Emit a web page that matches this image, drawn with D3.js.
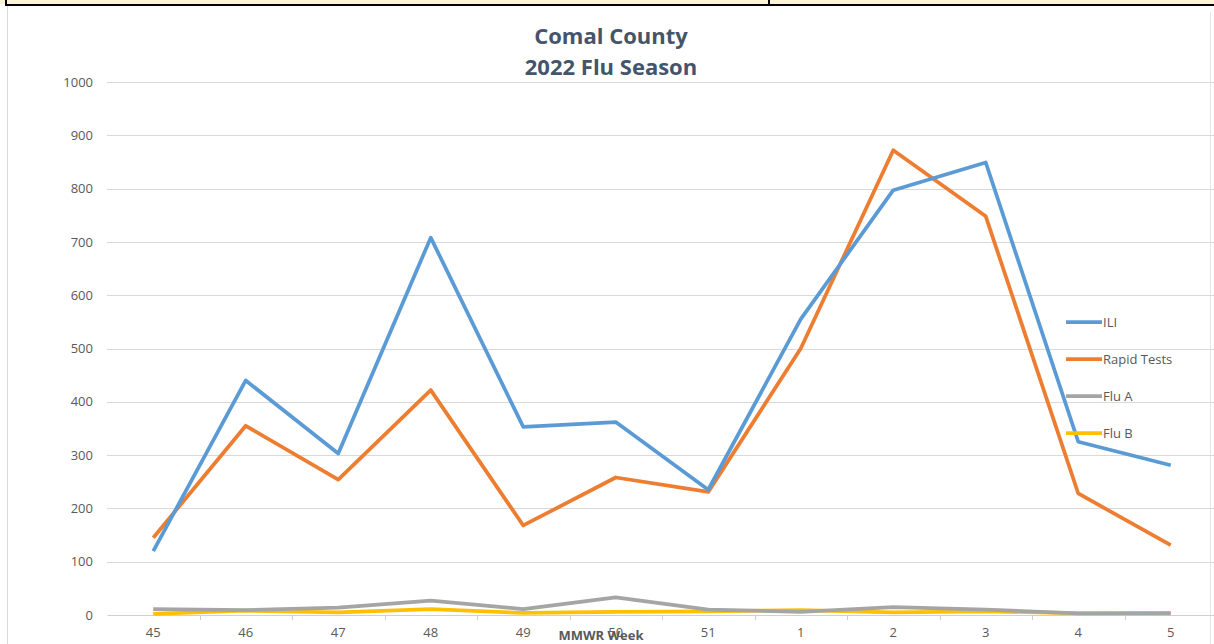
<!DOCTYPE html>
<html>
<head>
<meta charset="utf-8">
<script src="https://cdn.jsdelivr.net/npm/d3@7"></script>
<style>
	html, body { margin: 0; padding: 0; background: #fff; }
	svg { display: block; }
</style>
</head>
<body>
<div id="chart"></div>
<script>
'use strict';

var weeks = ['45', '46', '47', '48', '49', '50', '51', '1', '2', '3', '4', '5'];
var ili = [120, 440, 303, 708, 353, 362, 235, 555, 797, 849, 325, 281];
var rapidTests = [145, 355, 254, 422, 168, 258, 231, 500, 872, 748, 228, 131];
var fluA = [11, 9, 14, 27, 11, 33, 10, 6, 15, 10, 3, 3];
var fluB = [2, 8, 5, 11, 4, 6, 7, 9, 5, 7, 3, 4];
var yTicks = [0, 100, 200, 300, 400, 500, 600, 700, 800, 900, 1000];

var series = [
	{name: 'ILI', values: ili, color: '#5b9bd5'},
	{name: 'Rapid Tests', values: rapidTests, color: '#ed7d31'},
	{name: 'Flu A', values: fluA, color: '#a5a5a5'},
	{name: 'Flu B', values: fluB, color: '#ffc000'}
];

var svgWidth = 1214;
var svgHeight = 644;
var margin = {top: 82, right: -3, bottom: 29, left: 107};
var width = svgWidth - margin.left - margin.right;
var height = svgHeight - margin.top - margin.bottom;
var font = '"Open Sans", "Liberation Sans", sans-serif';

var svg = d3.select('#chart').append('svg')
	.attr('width', svgWidth)
	.attr('height', svgHeight);

// Page frame bits from the surrounding document
svg.append('rect').attr('x', 0).attr('y', 0).attr('width', svgWidth).attr('height', 4).attr('fill', '#fdf1d6');
svg.append('rect').attr('x', 5).attr('y', 4).attr('width', svgWidth - 5).attr('height', 2).attr('fill', '#000');
svg.append('rect').attr('x', 5).attr('y', 0).attr('width', 2).attr('height', 5).attr('fill', '#000');
svg.append('rect').attr('x', 768).attr('y', 0).attr('width', 2).attr('height', 5).attr('fill', '#000');
svg.append('line').attr('x1', 7.5).attr('x2', 7.5).attr('y1', 6).attr('y2', svgHeight).attr('stroke', '#d9d9d9');
svg.append('line').attr('x1', 1210.5).attr('x2', 1210.5).attr('y1', 12).attr('y2', svgHeight).attr('stroke', '#e6e6e6');

var x = d3.scaleBand().domain(weeks).range([0, width]);
var y = d3.scaleLinear().domain([0, 1000]).range([height, 0]);

var g = svg.append('g')
	.attr('transform', `translate(${margin.left}, ${margin.top})`);

// Gridlines
g.append('g').selectAll('line')
	.data(yTicks.filter(function(d) { return d > 0; }))
	.join('line')
	.attr('x1', 0)
	.attr('x2', width)
	.attr('y1', function(d) { return Math.round(y(d)) + 0.5; })
	.attr('y2', function(d) { return Math.round(y(d)) + 0.5; })
	.attr('stroke', '#d9d9d9');

// Y axis labels
var yAxis = g.append('g')
	.call(d3.axisLeft(y).tickValues(yTicks).tickFormat(d3.format('d')).tickSize(0).tickPadding(14));
yAxis.select('.domain').remove();
yAxis.selectAll('text')
	.attr('fill', '#595959')
	.style('font-family', font)
	.style('font-size', '13px');

// X axis
var xAxis = g.append('g')
	.attr('transform', `translate(0, ${height})`)
	.call(d3.axisBottom(x).tickSize(0).tickPadding(13));
xAxis.select('.domain').attr('stroke', '#d0d0d0');
xAxis.selectAll('text')
	.attr('fill', '#595959')
	.style('font-family', font)
	.style('font-size', '13px');

// Tick marks between categories
g.append('g').selectAll('line')
	.data(weeks.slice(1))
	.join('line')
	.attr('x1', function(d) { return Math.round(x(d)) + 0.5; })
	.attr('x2', function(d) { return Math.round(x(d)) + 0.5; })
	.attr('y1', height)
	.attr('y2', height + 5)
	.attr('stroke', '#d0d0d0');

// Lines
var line = d3.line()
	.x(function(d, i) { return x(weeks[i]) + x.bandwidth() / 2; })
	.y(function(d) { return y(d); });

g.append('g').selectAll('path')
	.data(series.slice().reverse())
	.join('path')
	.attr('d', function(d) { return line(d.values); })
	.attr('fill', 'none')
	.attr('stroke', function(d) { return d.color; })
	.attr('stroke-width', 3.75)
	.attr('stroke-linejoin', 'round');

// Title
svg.append('text')
	.attr('x', 611)
	.attr('y', 44)
	.attr('text-anchor', 'middle')
	.attr('fill', '#44546a')
	.style('font-family', font)
	.style('font-weight', 'bold')
	.style('font-size', '22px')
	.text('Comal County');
svg.append('text')
	.attr('x', 611)
	.attr('y', 75)
	.attr('text-anchor', 'middle')
	.attr('fill', '#44546a')
	.style('font-family', font)
	.style('font-weight', 'bold')
	.style('font-size', '22px')
	.text('2022 Flu Season');

// Axis title
svg.append('text')
	.attr('x', 601)
	.attr('y', 640)
	.attr('text-anchor', 'middle')
	.attr('fill', '#595959')
	.style('font-family', font)
	.style('font-weight', 'bold')
	.style('font-size', '13px')
	.text('MMWR Week');

// Legend
var legend = svg.append('g')
	.attr('transform', 'translate(1066, 322)');
var item = legend.selectAll('g')
	.data(series)
	.join('g')
	.attr('transform', function(d, i) { return `translate(0, ${i * 37})`; });
item.append('line')
	.attr('x1', 0)
	.attr('x2', 36)
	.attr('stroke', function(d) { return d.color; })
	.attr('stroke-width', 3.75);
item.append('text')
	.attr('x', 37)
	.attr('dy', '0.35em')
	.attr('fill', '#595959')
	.style('font-family', font)
	.style('font-size', '13px')
	.text(function(d) { return d.name; });
</script>
</body>
</html>
